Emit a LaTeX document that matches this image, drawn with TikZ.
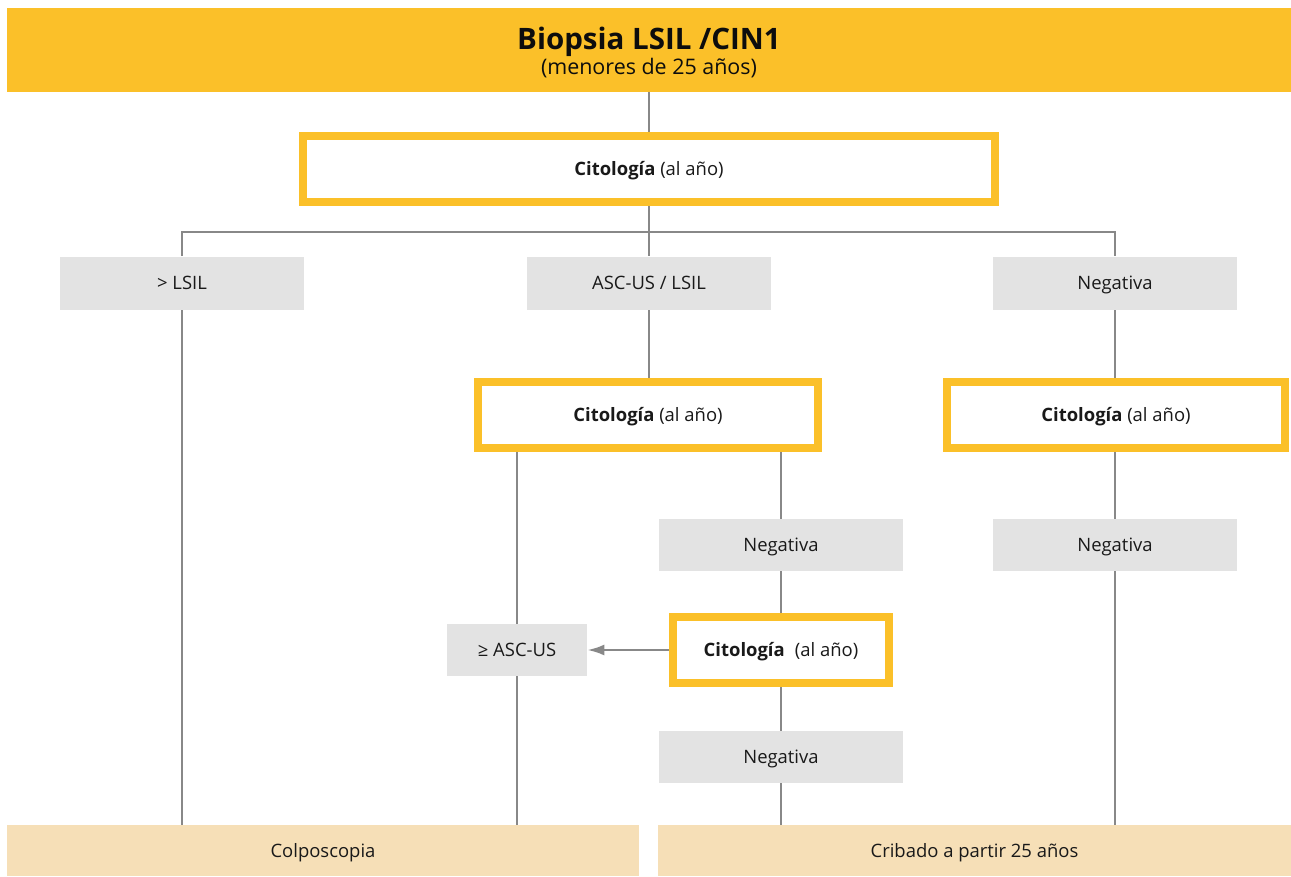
\documentclass[tikz,border=0pt]{standalone}
\usepackage{fontspec}
\setmainfont{Open Sans}
\usetikzlibrary{arrows.meta,backgrounds}

\definecolor{banner yellow}{RGB}{251,192,41}
\definecolor{box gray}{RGB}{227,227,227}
\definecolor{end beige}{RGB}{246,223,183}
\definecolor{link gray}{RGB}{136,136,136}

\tikzstyle{plain text} = [font=\fontsize{10.5}{12}\selectfont, text=black!90, inner sep=0pt, text height=7.6pt, text depth=0pt]
\tikzstyle{banner} = [fill=banner yellow, minimum width=25.68cm, minimum height=1.68cm, inner sep=0pt]
\tikzstyle{title text} = [inner sep=0pt, align=center, text=black!95, font={\fontsize{12.2}{14.2}\selectfont\lineskiplimit=-100pt}]
\tikzstyle{citbox} = [plain text, draw=banner yellow, line width=0.16cm, fill=white, minimum height=1.32cm]
\tikzstyle{result} = [plain text, fill=box gray, minimum width=4.88cm, minimum height=1.04cm]
\tikzstyle{outcome} = [plain text, fill=end beige, minimum width=12.64cm, minimum height=1.02cm]
\tikzstyle{link} = [draw=link gray, line width=0.05cm]

\begin{document}
\begin{tikzpicture}[x=0.02cm, y=-0.02cm]

    \useasboundingbox (0,0) rectangle (1291,876);

    % Header
    \node[banner] (banner) at (649,50) {};
    \node[title text] (title) at (649,52.7)
      {{\fontsize{16.8}{14.2}\selectfont\bfseries Biopsia LSIL /CIN1}\\
       (menores de 25 años)};

    % The yearly cytologies
    \node[citbox, minimum width=13.84cm] (cit1) at (649,169) {\textbf{Citología} (al año)};
    \node[citbox, minimum width=6.8cm] (cit2) at (648,415) {\textbf{Citología} (al año)};
    \node[citbox, minimum width=6.76cm] (cit3) at (1116,415) {\textbf{Citología} (al año)};
    \node[citbox, minimum width=4.34cm] (cit4) at (781,650) {\textbf{Citología}\hspace{0.55em}(al año)};

    % First results
    \node[result, minimum height=1.06cm] (lsil) at (182,283) {> LSIL};
    \node[result, minimum height=1.06cm] (asc) at (649,283) {ASC-US / LSIL};
    \node[result, minimum height=1.06cm] (neg1) at (1115,283) {Negativa};

    % Later results
    \foreach \pos/\name in {{(781,545)/neg2}, {(1115,545)/neg3}, {(781,757)/neg4}}
      \node[result] (\name) at \pos {Negativa};
    \node[result, minimum width=2.8cm] (geasc) at (517,650) {≥ ASC-US};

    % Where it ends
    \node[outcome] (colpo) at (323,850.5) {Colposcopia};
    \node[outcome, minimum width=12.66cm] (cribado) at (974.5,850.5) {Cribado a partir 25 años};

    \coordinate (split) at (649,232);

    \begin{scope}[on background layer]
      \draw[link] (banner.south) -- (cit1.north);
      \draw[link] (cit1.south) -- (asc.north);
      \draw[link] (lsil.north) |- (split) -| (neg1.north);
      \draw[link] (lsil.south) -- (lsil.south |- colpo.north);
      \draw[link] (asc.south) -- (asc.south |- cit2.north);
      \draw[link] (neg1.south) -- (neg1.south |- cit3.north);
      \draw[link] (geasc.north) -- (geasc.north |- cit2.south);
      \draw[link] (geasc.south) -- (geasc.south |- colpo.north);
      \draw[link] (neg2.north |- cit2.south) -- (neg2.north);
      \draw[link] (neg2) -- (cit4) -- (neg4);
      \draw[link] (neg4.south) -- (neg4.south |- cribado.north);
      \draw[link] (neg3.north |- cit3.south) -- (neg3.north);
      \draw[link] (neg3.south) -- (neg3.south |- cribado.north);
      \draw[link, -{Latex[length=0.34cm, width=0.22cm]}] (cit4.west) -- (geasc.east);
    \end{scope}

\end{tikzpicture}
\end{document}
